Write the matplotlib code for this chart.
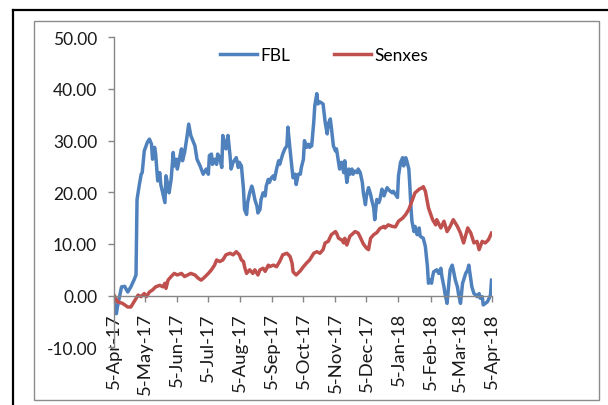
import matplotlib
matplotlib.use("Agg")
import matplotlib.pyplot as plt
import matplotlib.dates as mdates
from matplotlib.ticker import FuncFormatter
from matplotlib.lines import Line2D
from matplotlib.patches import Rectangle
import pandas as pd

# values, days counted from 5-Apr-2017
start = pd.Timestamp("2017-04-05")

fbl_days = [0, 2, 3, 7, 10, 13, 16, 19, 21, 22, 24, 26, 27, 29, 32, 34, 36, 37, 39, 40,
            42, 44, 45, 49, 50, 52, 53, 55, 57, 58, 60, 61, 63, 65, 66, 68, 70, 72, 74, 78,
            80, 83, 86, 89, 91, 92, 94, 95, 97, 99, 100, 102, 104, 105, 107, 108, 110, 112, 113, 115,
            117, 118, 120, 121, 123, 125, 126, 128, 129, 131, 133, 134, 136, 138, 139, 141, 142, 144, 146, 147,
            149, 150, 152, 154, 155, 157, 159, 160, 162, 163, 165, 167, 168, 170, 172, 173, 175, 176, 178, 180,
            181, 183, 184, 186, 188, 189, 191, 193, 194, 196, 197, 199, 202, 204, 206, 207, 209, 210, 212, 214,
            215, 217, 218, 220, 222, 223, 225, 227, 228, 230, 231, 233, 235, 236, 238, 240, 241, 243, 244, 246,
            248, 249, 251, 252, 254, 256, 257, 259, 261, 262, 264, 265, 267, 269, 270, 272, 274, 275, 277, 279,
            280, 282, 283, 285, 286, 287, 288, 290, 291, 293, 295, 296, 299, 301, 303, 304, 306, 307, 308, 309,
            312, 314, 316, 317, 319, 320, 322, 324, 325, 327, 328, 330, 332, 333, 335, 337, 338, 340, 342, 343,
            345, 346, 348, 350, 351, 353, 354, 356, 357, 361, 362, 364, 365]
fbl = [-1.5, -3.5, -2.2, 1.7, 1.8, 0.7, 1.7, 3.0, 4.0, 18.6, 21.2, 23.5, 23.8, 28.0, 29.7, 30.3, 29.3, 26.4, 28.7, 27.4,
       22.2, 23.8, 21.5, 18.0, 23.2, 21.2, 19.9, 22.5, 27.7, 25.1, 26.4, 24.5, 26.4, 28.4, 26.1, 27.7, 30.3, 33.2, 31.0, 29.0,
       26.4, 25.1, 23.5, 24.5, 23.5, 27.1, 27.4, 25.4, 26.4, 25.4, 27.4, 26.7, 24.8, 31.0, 29.0, 28.4, 31.0, 27.1, 24.5, 25.8,
       26.4, 26.7, 24.8, 25.8, 25.1, 20.6, 16.7, 15.7, 18.0, 19.9, 21.2, 20.6, 18.6, 17.3, 16.0, 16.7, 18.6, 19.9, 19.3, 21.2,
       22.5, 21.9, 22.8, 23.2, 22.5, 24.5, 26.1, 25.4, 26.7, 27.4, 28.4, 29.0, 32.6, 28.4, 24.5, 22.8, 23.5, 21.5, 23.5, 23.5,
       24.8, 26.4, 30.0, 28.7, 29.3, 28.7, 29.0, 33.6, 36.8, 39.1, 37.1, 37.5, 37.1, 33.6, 31.3, 33.2, 34.2, 32.6, 29.0, 28.0,
       28.4, 25.8, 24.5, 25.8, 23.8, 26.1, 21.9, 24.5, 23.5, 24.5, 23.5, 24.1, 23.8, 24.5, 23.8, 21.9, 19.9, 17.6, 19.3, 20.9,
       19.6, 18.6, 17.0, 14.7, 18.6, 18.0, 18.6, 20.6, 19.3, 19.9, 20.9, 20.6, 20.2, 19.9, 20.2, 19.6, 19.0, 23.2, 25.8, 26.7,
       25.1, 26.7, 26.1, 24.5, 21.2, 17.3, 14.4, 12.4, 13.4, 11.8, 13.1, 11.5, 11.1, 9.5, 5.6, 2.4, 3.0, 2.4, 3.7, 4.6,
       5.0, 4.3, 5.3, 3.7, 1.7, 0.4, -1.5, 3.0, 5.0, 5.9, 5.0, 3.0, 1.7, 0.4, -1.5, 2.4, 3.0, 4.3, 5.0, 5.9,
       3.0, 1.7, 0.4, 0.1, -0.2, 0.4, -0.5, -0.2, -1.8, -1.2, -0.8, 0.1, 3.0]

sensex_days = [0, 3, 8, 13, 16, 19, 23, 26, 29, 31, 34, 37, 40, 44, 47, 49, 50, 52, 55, 58,
               61, 65, 68, 71, 74, 78, 81, 84, 87, 91, 94, 97, 99, 102, 105, 108, 112, 115, 118, 121,
               123, 125, 126, 128, 131, 134, 136, 139, 141, 144, 146, 149, 150, 154, 157, 160, 163, 167, 170, 172,
               173, 176, 180, 183, 186, 189, 193, 196, 199, 202, 204, 207, 210, 214, 215, 217, 220, 222, 223, 225,
               228, 233, 236, 238, 241, 244, 246, 248, 251, 254, 257, 261, 262, 265, 269, 272, 275, 279, 282, 285,
               288, 291, 295, 298, 299, 301, 303, 304, 308, 311, 312, 316, 319, 322, 325, 328, 332, 335, 338, 342,
               345, 348, 351, 353, 356, 359, 362, 365]
sensex = [0.0, -1.2, -1.5, -2.2, -2.2, -1.2, 0.1, -0.2, 0.4, -0.2, 0.7, 1.1, 1.7, 2.0, 1.7, 2.4, 1.4, 3.0, 3.7, 4.3,
          4.0, 4.3, 3.7, 4.0, 4.3, 4.0, 3.4, 3.0, 3.5, 4.3, 5.0, 5.9, 6.9, 6.6, 6.9, 7.9, 8.2, 7.9, 8.5, 7.9,
          6.9, 6.6, 5.6, 4.3, 5.0, 4.3, 5.0, 4.0, 5.0, 5.3, 4.7, 5.9, 5.6, 5.9, 5.6, 6.6, 7.9, 8.2, 7.6, 6.3,
          4.6, 4.0, 4.8, 5.6, 6.3, 6.9, 8.2, 8.5, 8.2, 8.9, 10.2, 10.5, 11.8, 12.4, 12.1, 11.1, 10.8, 10.2, 11.1, 9.8,
          11.5, 12.4, 12.1, 11.3, 10.0, 9.2, 8.9, 11.1, 11.8, 12.2, 13.0, 13.4, 13.1, 13.7, 13.4, 13.3, 14.4, 15.0, 15.7, 16.7,
          18.3, 19.9, 20.6, 20.9, 21.1, 20.2, 18.0, 17.0, 14.7, 13.7, 14.7, 13.1, 14.4, 12.4, 13.4, 14.7, 13.4, 12.1, 10.2, 13.1,
          12.1, 10.2, 10.5, 8.9, 10.5, 10.2, 10.8, 12.1]

fbl_dates = start + pd.to_timedelta(fbl_days, unit="D")
sensex_dates = start + pd.to_timedelta(sensex_days, unit="D")

plt.rcParams['font.family'] = ['Lato', 'DejaVu Sans']
grey = "#868686"

fig = plt.figure(figsize=(6.08, 4.06), dpi=100)
ax = fig.add_axes([0.188, 0.1421, 0.6204, 0.7636])

ax.plot(fbl_dates, fbl, color="#4F81BD", lw=2.5, label="FBL", solid_joinstyle="round")
ax.plot(sensex_dates, sensex, color="#C0504D", lw=2.5, label="Senxes", solid_joinstyle="round")

ax.set_ylim(-10, 50)
ax.set_yticks(range(-10, 51, 10))
ax.set_xlim(start, start + pd.Timedelta(days=365))
ax.xaxis.set_major_locator(mdates.MonthLocator(bymonthday=5))
ax.xaxis.set_major_formatter(mdates.DateFormatter("%-d-%b-%y"))
ax.yaxis.set_major_formatter(FuncFormatter(lambda v, p: f"{v:.2f}"))

ax.spines["bottom"].set_position(("data", 0))
ax.spines["top"].set_visible(False)
ax.spines["right"].set_visible(False)
for s in ("bottom", "left"):
    ax.spines[s].set_color(grey)
    ax.spines[s].set_linewidth(1.0)

ax.tick_params(axis="both", direction="out", length=4.3, width=1.0, color=grey,
               labelsize=12.5, labelcolor="#1a1a1a", pad=8)
ax.tick_params(axis="x", labelsize=13.3, pad=7.5)
plt.setp(ax.get_xticklabels(), rotation=90)

ax.legend(loc="center", bbox_to_anchor=(0.533, 0.862), bbox_transform=fig.transFigure,
          ncol=2, frameon=False, fontsize=12.5, handlelength=2.16, handletextpad=0.2,
          columnspacing=2.47)

# chart area frame and outer black border
fig.add_artist(Rectangle((34 / 608, 1 - 401 / 406), 565 / 608, 379 / 406, transform=fig.transFigure,
                         fill=False, edgecolor="#8c8c8c", lw=1.0))
fig.add_artist(Line2D([12.5 / 608, 12.5 / 608], [0, 1 - 11 / 406], transform=fig.transFigure,
                      color="black", lw=1.6))
fig.add_artist(Line2D([12.5 / 608, 1], [1 - 11 / 406, 1 - 11 / 406], transform=fig.transFigure,
                      color="black", lw=1.6))

fig.savefig("out.png", dpi=100)
